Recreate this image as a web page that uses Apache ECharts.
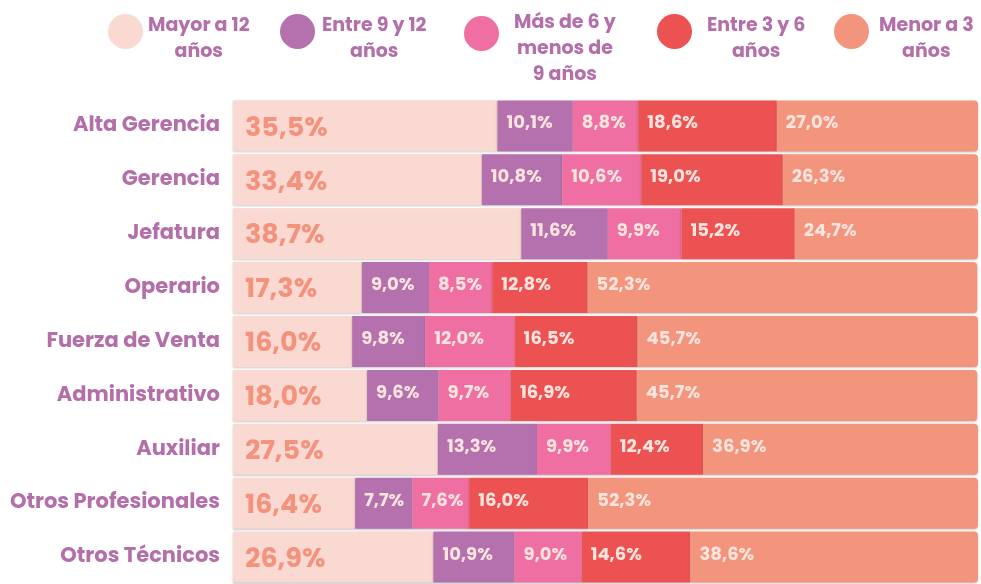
<!DOCTYPE html>
<html>
<head>
<meta charset="utf-8">
<script src="https://cdn.jsdelivr.net/npm/echarts@6/dist/echarts.min.js"></script>
<style>
  html, body { margin: 0; padding: 0; background: #fff; }
  #main { width: 981px; height: 584px; }
</style>
</head>
<body>
<div id="main"></div>
<script>
const categories = ['Alta Gerencia', 'Gerencia', 'Jefatura', 'Operario', 'Fuerza de Venta',
  'Administrativo', 'Auxiliar', 'Otros Profesionales', 'Otros Técnicos'];
const seriesNames = ['Mayor a 12\naños', 'Entre 9 y 12\naños', 'Más de 6 y\nmenos de\n9 años', 'Entre 3 y 6\naños', 'Menor a 3\naños'];
const mayor12 = [35.5, 33.4, 38.7, 17.3, 16.0, 18.0, 27.5, 16.4, 26.9];
const entre9y12 = [10.1, 10.8, 11.6, 9.0, 9.8, 9.6, 13.3, 7.7, 10.9];
const mas6menos9 = [8.8, 10.6, 9.9, 8.5, 12.0, 9.7, 9.9, 7.6, 9.0];
const entre3y6 = [18.6, 19.0, 15.2, 12.8, 16.5, 16.9, 12.4, 16.0, 14.6];
const menor3 = [27.0, 26.3, 24.7, 52.3, 45.7, 45.7, 36.9, 52.3, 38.6];

const colors = ['#FAD9D3', '#B571AD', '#EF6FA2', '#EC5252', '#F3947C'];
const purple = '#B46EAA';
const font = 'Poppins, Inter, "Noto Sans", sans-serif';

const fmt = (p) => p.value.toFixed(1).replace('.', ',') + '%';

// una leyenda por serie para poder colocarlas a mano
const legendPos = [
  { left: 108, pad: 0 },
  { left: 280, pad: 2 },
  { left: 464, pad: 10 },
  { left: 657, pad: 10 },
  { left: 834, pad: 5 }
];
const legends = seriesNames.map((name, i) => {
  const lines = name.split('\n').length;
  return {
    data: [name],
    left: legendPos[i].left,
    top: 14,
    padding: 0,
    icon: 'circle',
    itemWidth: 35,
    itemHeight: 35,
    selectedMode: false,
    formatter: (n) => n.split('\n').map(s => '{t|' + s + '}').join('\n'),
    textStyle: {
      padding: [lines === 3 ? 32 : 16, 0, 0, legendPos[i].pad],
      rich: {
        t: {
          color: purple,
          fontFamily: font,
          fontWeight: 700,
          fontSize: 19,
          lineHeight: 26,
          align: 'center'
        }
      }
    }
  };
});

const values = [mayor12, entre9y12, mas6menos9, entre3y6, menor3];
const series = values.map((data, i) => ({
  name: seriesNames[i],
  type: 'bar',
  stack: 'total',
  data: data,
  barWidth: 51,
  itemStyle: {
    color: colors[i],
    borderRadius: i === 4 ? [0, 4, 4, 0] : 0,
    shadowColor: 'rgba(0,0,0,0.22)',
    shadowBlur: 2,
    shadowOffsetY: 1
  },
  label: {
    show: true,
    position: 'insideLeft',
    distance: i === 0 ? 12 : 9,
    offset: i === 0 ? [0, 3] : [0, -2],
    formatter: fmt,
    fontFamily: font,
    fontWeight: 700,
    fontSize: i === 0 ? 27 : 18,
    color: i === 0 ? '#F4927C' : '#FCE4DE'
  }
}));

const chart = echarts.init(document.getElementById('main'));
chart.setOption({
  animation: false,
  legend: legends,
  grid: { left: 233, top: 99, width: 745, height: 491.5, containLabel: false },
  xAxis: { type: 'value', min: 0, max: 100, show: false },
  yAxis: {
    type: 'category',
    data: categories,
    inverse: true,
    axisLine: { show: false },
    axisTick: { show: false },
    axisLabel: {
      margin: 13,
      color: purple,
      fontFamily: font,
      fontWeight: 700,
      fontSize: 21
    }
  },
  series: series
});
</script>
</body>
</html>
